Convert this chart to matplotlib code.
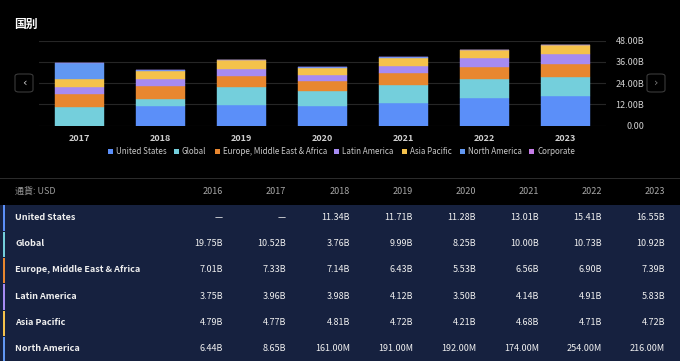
import numpy as np
import matplotlib.pyplot as plt
from matplotlib.patches import Rectangle, FancyBboxPatch

plt.rcParams['font.family'] = ['Noto Sans CJK SC', 'DejaVu Sans']

# Daten (Mrd. USD)
years = [2016, 2017, 2018, 2019, 2020, 2021, 2022, 2023]
chart_years = years[1:]
series = ['United States', 'Global', 'Europe, Middle East & Africa',
          'Latin America', 'Asia Pacific', 'North America', 'Corporate']
us    = [None, None, 11.34, 11.71, 11.28, 13.01, 15.41, 16.55]
glob  = [19.75, 10.52, 3.76, 9.99, 8.25, 10.00, 10.73, 10.92]
emea  = [7.01, 7.33, 7.14, 6.43, 5.53, 6.56, 6.90, 7.39]
latam = [3.75, 3.96, 3.98, 4.12, 3.50, 4.14, 4.91, 5.83]
apac  = [4.79, 4.77, 4.81, 4.72, 4.21, 4.68, 4.71, 4.72]
namer = [6.44, 8.65, 0.161, 0.191, 0.192, 0.174, 0.254, 0.216]
corp  = [None] * 8  # nicht ablesbar
values = [us, glob, emea, latam, apac, namer, corp]
colors = ['#5b8ff9', '#74cfdc', '#e8872f', '#a68bf2', '#f5c24b', '#6197f2', '#c57ce6']
yticks = [0, 12, 24, 36, 48]

W, H = 680, 361
fig = plt.figure(figsize=(W/100, H/100), dpi=100, facecolor='black')

def fx(x): return x / W
def fy(y): return 1 - y / H

def rect(x, y, w, h, c):
    fig.add_artist(Rectangle((fx(x), fy(y+h)), w/W, h/H, transform=fig.transFigure,
                             facecolor=c, edgecolor='none', zorder=0))

def txt(x, y, s, **kw):
    kw.setdefault('color', '#e8e8e8')
    kw.setdefault('fontsize', 6.5)
    kw.setdefault('va', 'center')
    fig.text(fx(x), fy(y), s, **kw)

# Chart
ax = fig.add_axes([fx(39), fy(125.7), (606-39)/W, (125.7-40.7)/H])
ax.set_facecolor('black')
xs = np.arange(len(chart_years))
bottom = np.zeros(len(chart_years))
for name, vals, c in zip(series, values, colors):
    v = np.array([0 if a is None else a for a in vals[1:]], dtype=float)
    ax.bar(xs, v, 0.61, bottom=bottom, color=c, edgecolor=c, linewidth=0.3, zorder=3)
    bottom += v
ax.set_xlim(-0.5, 6.5)
ax.set_ylim(0, 48)
ax.set_yticks(yticks)
for t in yticks:
    ax.axhline(t, color='#262626' if t else '#333333', lw=0.8, zorder=1)
for s in ax.spines.values():
    s.set_visible(False)
ax.yaxis.tick_right()
ax.tick_params(length=0, colors='#d0d0d0', labelsize=6.5, pad=3)
ax.set_yticks(yticks, ['0.00'] + [f'{t:.2f}B' for t in yticks[1:]])
for lab in ax.get_yticklabels():
    lab.set_ha('right')
    lab.set_position((1.06, 0))
ax.set_xticks(xs, [str(y) for y in chart_years])
ax.tick_params(axis='x', pad=6)
for lab in ax.get_xticklabels():
    lab.set_fontweight('bold')

txt(14, 24, '国别', fontsize=8.5, fontweight='bold', color='white')

# Buttons
for bx in (15, 647):
    fig.add_artist(FancyBboxPatch((fx(bx), fy(92)), 18/W, 18/H, transform=fig.transFigure,
                                  boxstyle='round,pad=0,rounding_size=0.006',
                                  facecolor='black', edgecolor='#3a3a3a', lw=0.8))
txt(24, 82.5, '‹', ha='center', fontsize=8, color='#cccccc', family='DejaVu Sans')
txt(656, 82.5, '›', ha='center', fontsize=8, color='#777777', family='DejaVu Sans')

# Legende
leg_x = [108, 174, 215, 334, 402, 460, 529]
for x0, name, c in zip(leg_x, series, colors):
    rect(x0, 149, 5, 5, c)
    txt(x0 + 8, 152, name, fontsize=5.8, color='#c8c8c8')

# Tabelle
rect(0, 178, W, 0.8, '#2b2b2b')
rect(0, 205, W, H - 205, '#16213f')
col_x = [223, 286, 350, 413, 476, 539, 602, 665]
txt(15, 191, '通貨: USD', color='#9a9a9a', fontsize=6.5)
for x0, yr in zip(col_x, years):
    txt(x0, 191, str(yr), ha='right', color='#a8a8a8', fontsize=6.5)

row_h = 26.3
for i, (name, vals, c) in enumerate(zip(series[:6], values[:6], colors[:6])):
    yc = 217.3 + i * row_h
    rect(2.5, yc - 12.5 + 0.5, 2, row_h - 1, c)
    txt(15, yc, name, fontsize=6.5, fontweight='bold', color='#f0f0f0')
    for x0, v in zip(col_x, vals):
        if v is None:
            s = '—'
        elif v < 1:
            s = f'{v*1000:.2f}M'
        else:
            s = f'{v:.2f}B'
        txt(x0, yc, s, ha='right', fontsize=6.5, fontweight='medium', color='#f0f0f0')

fig.savefig('out.png', dpi=100, facecolor='black')
